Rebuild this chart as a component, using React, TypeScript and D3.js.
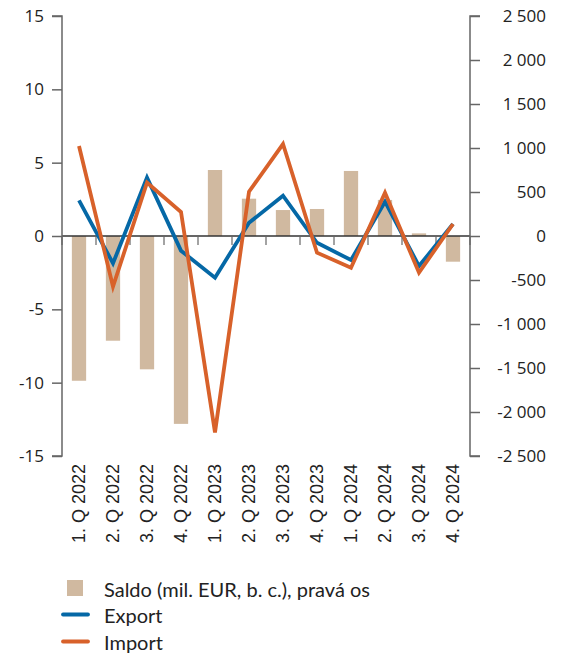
import React, { useEffect, useRef } from "react"
import * as d3 from "d3"

const categories = ["1. Q 2022", "2. Q 2022", "3. Q 2022", "4. Q 2022", "1. Q 2023", "2. Q 2023", "3. Q 2023", "4. Q 2023", "1. Q 2024", "2. Q 2024", "3. Q 2024", "4. Q 2024"]
const exportValues = [2.43, -1.86, 3.98, -1.0, -2.84, 0.9, 2.75, -0.46, -1.64, 2.34, -2.05, 0.82]
const importValues = [6.14, -3.45, 3.64, 1.64, -13.39, 3.02, 6.27, -1.14, -2.16, 2.95, -2.5, 0.82]
const saldoValues = [-1645, -1190, -1515, -2135, 750, 424, 295, 307, 739, 410, 30, -292]
const leftTicks = [-15, -10, -5, 0, 5, 10, 15]
const rightTicks = [-2500, -2000, -1500, -1000, -500, 0, 500, 1000, 1500, 2000, 2500]

const W = 563, H = 655
const left = 62, right = 470, top = 16, bottom = 456
const blue = "#0568a6", orange = "#d8612a", beige = "#d0b9a0"

export default function App() {
  const ref = useRef<SVGSVGElement>(null)

  useEffect(() => {
    const svg = d3.select(ref.current)
    svg.selectAll("*").remove()

    const x = d3.scaleBand().domain(categories).range([left, right]).padding(0)
    const yL = d3.scaleLinear().domain([-15, 15]).range([bottom, top])
    const yR = d3.scaleLinear().domain([-2500, 2500]).range([bottom, top])
    const loc = d3.formatLocale({ decimal: ",", thousands: "\u00a0", grouping: [3], currency: ["", " EUR"], minus: "-" })
    const fmt = loc.format(",d")

    // bars (right axis)
    const bw = x.bandwidth() * 0.42
    svg.append("g").selectAll("rect").data(saldoValues).join("rect")
      .attr("x", (d, i) => x(categories[i])! + (x.bandwidth() - bw) / 2)
      .attr("width", bw)
      .attr("y", d => yR(Math.max(0, d)))
      .attr("height", d => Math.abs(yR(d) - yR(0)))
      .attr("fill", beige)

    // zero line + category ticks
    const zero = yL(0)
    svg.append("line").attr("x1", left).attr("x2", right).attr("y1", zero).attr("y2", zero)
      .attr("stroke", "#333").attr("stroke-width", 1.5)
    const bounds = categories.map(c => x(c)!).concat([right])
    svg.append("g").selectAll("line").data(bounds).join("line")
      .attr("x1", d => d).attr("x2", d => d).attr("y1", zero).attr("y2", zero + 9)
      .attr("stroke", "#666").attr("stroke-width", 1.2)

    // left axis
    const yAxisL = d3.axisLeft(yL).tickValues(leftTicks).tickSize(10).tickPadding(8).tickFormat(d => fmt(d as number))
    const gL = svg.append("g").attr("transform", `translate(${left},0)`).call(yAxisL)
    gL.select(".domain").attr("stroke", "#666").attr("stroke-width", 1.5).attr("d", `M-10,${top}H0V${bottom}H-10`)
    gL.selectAll(".tick line").attr("stroke", "#666").attr("stroke-width", 1.5)
    gL.selectAll("text").attr("font-family", "Open Sans").attr("font-size", 17).attr("fill", "#222")

    // right axis
    const yAxisR = d3.axisRight(yR).tickValues(rightTicks).tickSize(10).tickPadding(8).tickFormat(d => fmt(d as number))
    const gR = svg.append("g").attr("transform", `translate(${right},0)`).call(yAxisR)
    gR.select(".domain").attr("stroke", "#666").attr("stroke-width", 1.5).attr("d", `M10,${top}H0V${bottom}H10`)
    gR.selectAll(".tick line").attr("stroke", "#666").attr("stroke-width", 1.5)
    gR.selectAll("text").attr("font-family", "Open Sans").attr("font-size", 17).attr("fill", "#222")
      .attr("text-anchor", "end").attr("x", 76)

    // lines
    const line = d3.line<number>().x((d, i) => x(categories[i])! + x.bandwidth() / 2).y(d => yL(d))
    svg.append("path").attr("d", line(exportValues)).attr("fill", "none").attr("stroke", blue)
      .attr("stroke-width", 3.8).attr("stroke-linejoin", "miter")
    svg.append("path").attr("d", line(importValues)).attr("fill", "none").attr("stroke", orange)
      .attr("stroke-width", 3.8).attr("stroke-linejoin", "miter")

    // x labels
    svg.append("g").selectAll("text").data(categories).join("text")
      .attr("transform", d => `translate(${x(d)! + x.bandwidth() / 2},${bottom + 8}) rotate(-90)`)
      .attr("dy", "0.35em").attr("text-anchor", "end")
      .attr("font-family", "Liberation Sans").attr("font-size", 18).attr("fill", "#222")
      .text(d => d)

    // legend
    const lg = svg.append("g").attr("font-family", "Lato").attr("font-size", 20).attr("fill", "#222")
    lg.append("rect").attr("x", 67).attr("y", 580).attr("width", 16).attr("height", 16).attr("fill", beige)
    lg.append("text").attr("x", 104).attr("y", 597).text("Saldo (mil. EUR, b. c.), pravá os")
    lg.append("line").attr("x1", 63).attr("x2", 88).attr("y1", 614.5).attr("y2", 614.5)
      .attr("stroke", blue).attr("stroke-width", 3.8).attr("stroke-linecap", "round")
    lg.append("text").attr("x", 104).attr("y", 623).text("Export")
    lg.append("line").attr("x1", 63).attr("x2", 88).attr("y1", 641.5).attr("y2", 641.5)
      .attr("stroke", orange).attr("stroke-width", 3.8).attr("stroke-linecap", "round")
    lg.append("text").attr("x", 104).attr("y", 650).text("Import")
  }, [])

  return (
    <svg ref={ref} width={W} height={H} style={{ position: "absolute", left: 0, top: 0, background: "#fff" }} />
  )
}
